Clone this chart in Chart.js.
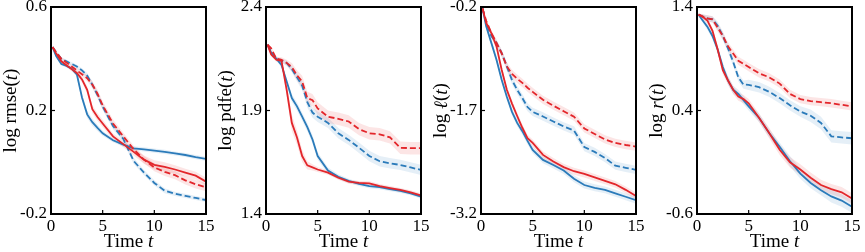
<!DOCTYPE html>
<html><head><meta charset="utf-8">
<script src="https://cdn.jsdelivr.net/npm/chart.js@4/dist/chart.umd.min.js"></script>
<style>
html,body{margin:0;padding:0;background:#fff;overflow:hidden;width:865px;height:252px;position:relative}
canvas{position:absolute;top:-10px}
</style></head><body>
<canvas id="c0" width="220" height="262" style="left:0px"></canvas>
<canvas id="c1" width="220" height="262" style="left:215px"></canvas>
<canvas id="c2" width="220" height="262" style="left:430px"></canvas>
<canvas id="c3" width="220" height="262" style="left:646px"></canvas>
<script>
// time grid (shared)
const T = [0.15,0.5,1,1.5,2,2.5,3,3.5,4,4.5,5,6,7,8,9,10,11,12,13,14,15];
const X_TICKS = [0,5,10,15];

// Panel 1: log rmse(t)
const Y1_TICKS = [-0.2,0.2,0.6];
const rmse_bs = [0.445,0.41,0.38,0.372,0.362,0.34,0.25,0.185,0.155,0.133,0.112,0.085,0.068,0.054,0.05,0.045,0.04,0.034,0.028,0.02,0.013];
const rmse_bd = [0.445,0.425,0.40,0.39,0.38,0.37,0.355,0.335,0.30,0.26,0.215,0.14,0.09,0.005,-0.04,-0.08,-0.11,-0.122,-0.13,-0.138,-0.146];
const rmse_rs = [0.445,0.42,0.39,0.375,0.36,0.345,0.32,0.28,0.205,0.175,0.15,0.1,0.07,0.04,0.01,-0.01,-0.018,-0.028,-0.04,-0.052,-0.075];
const rmse_rd = [0.445,0.425,0.40,0.385,0.37,0.355,0.34,0.325,0.30,0.265,0.22,0.15,0.1,0.05,0.01,-0.02,-0.037,-0.05,-0.07,-0.085,-0.097];
const rmse_bs_sd = [0.003,0.005,0.006,0.006,0.007,0.01,0.012,0.014,0.014,0.012,0.01,0.008,0.008,0.008,0.008,0.008,0.008,0.008,0.008,0.008,0.008];
const rmse_bd_sd = [0.003,0.005,0.006,0.006,0.006,0.007,0.008,0.01,0.012,0.012,0.012,0.012,0.012,0.012,0.01,0.01,0.01,0.008,0.008,0.008,0.008];
const rmse_rs_sd = [0.003,0.005,0.006,0.007,0.008,0.01,0.012,0.014,0.015,0.015,0.014,0.012,0.012,0.014,0.016,0.018,0.018,0.016,0.015,0.015,0.015];
const rmse_rd_sd = [0.003,0.005,0.006,0.007,0.008,0.009,0.01,0.012,0.014,0.016,0.016,0.015,0.014,0.014,0.014,0.015,0.016,0.016,0.016,0.016,0.015];

// Panel 2: log pdfe(t)
const Y2_TICKS = [1.4,1.9,2.4];
const pdfe_bs = [2.218,2.18,2.15,2.12,2.04,1.96,1.92,1.87,1.82,1.76,1.68,1.61,1.58,1.56,1.545,1.535,1.53,1.52,1.512,1.5,1.484];
const pdfe_bd = [2.218,2.18,2.15,2.14,2.13,2.10,2.06,2.02,1.94,1.89,1.87,1.84,1.79,1.758,1.72,1.68,1.655,1.645,1.637,1.625,1.613];
const pdfe_rs = [2.218,2.17,2.145,2.14,2.0,1.84,1.77,1.68,1.635,1.625,1.615,1.6,1.575,1.556,1.55,1.548,1.535,1.525,1.516,1.505,1.49];
const pdfe_rd = [2.218,2.2,2.15,2.145,2.13,2.11,2.07,2.04,1.96,1.95,1.91,1.87,1.86,1.847,1.81,1.79,1.785,1.77,1.72,1.718,1.718];
const pdfe_bs_sd = [0.005,0.008,0.01,0.012,0.015,0.018,0.02,0.02,0.02,0.02,0.018,0.015,0.012,0.01,0.01,0.01,0.01,0.01,0.01,0.01,0.01];
const pdfe_bd_sd = [0.005,0.008,0.01,0.01,0.012,0.015,0.02,0.022,0.025,0.025,0.025,0.025,0.025,0.025,0.025,0.025,0.025,0.025,0.025,0.025,0.025];
const pdfe_rs_sd = [0.005,0.008,0.01,0.012,0.03,0.04,0.035,0.03,0.02,0.015,0.012,0.01,0.01,0.01,0.01,0.01,0.01,0.01,0.01,0.01,0.01];
const pdfe_rd_sd = [0.005,0.008,0.01,0.012,0.015,0.02,0.025,0.028,0.03,0.03,0.03,0.03,0.03,0.03,0.03,0.03,0.03,0.03,0.03,0.03,0.03];

// Panel 3: log l(t)
const Y3_TICKS = [-3.2,-1.7,-0.2];
const ell_bs = [-0.22,-0.48,-0.72,-0.965,-1.255,-1.5,-1.72,-1.88,-2.0,-2.14,-2.27,-2.416,-2.49,-2.57,-2.69,-2.78,-2.82,-2.85,-2.9,-2.95,-3.0];
const ell_bd = [-0.22,-0.43,-0.62,-0.723,-0.868,-1.061,-1.26,-1.40,-1.52,-1.65,-1.72,-1.787,-1.86,-1.93,-1.99,-2.23,-2.30,-2.39,-2.5,-2.53,-2.56];
const ell_rs = [-0.22,-0.43,-0.577,-0.771,-1.11,-1.4,-1.6,-1.78,-1.95,-2.1,-2.17,-2.344,-2.44,-2.52,-2.58,-2.62,-2.67,-2.72,-2.77,-2.85,-2.94];
const ell_rd = [-0.22,-0.40,-0.577,-0.72,-0.87,-1.061,-1.17,-1.24,-1.30,-1.37,-1.43,-1.545,-1.63,-1.71,-1.79,-1.96,-2.04,-2.12,-2.17,-2.2,-2.223];
const ell_bs_sd = [0.02,0.03,0.04,0.05,0.05,0.05,0.05,0.05,0.05,0.05,0.05,0.05,0.05,0.05,0.05,0.05,0.05,0.05,0.05,0.05,0.05];
const ell_bd_sd = [0.02,0.03,0.04,0.05,0.05,0.06,0.06,0.06,0.06,0.06,0.06,0.06,0.06,0.06,0.06,0.06,0.06,0.06,0.06,0.06,0.06];
const ell_rs_sd = [0.02,0.03,0.04,0.05,0.05,0.05,0.05,0.05,0.05,0.05,0.05,0.05,0.05,0.05,0.05,0.05,0.05,0.05,0.05,0.05,0.05];
const ell_rd_sd = [0.02,0.03,0.04,0.05,0.05,0.06,0.06,0.06,0.06,0.06,0.06,0.06,0.06,0.06,0.06,0.06,0.06,0.06,0.06,0.06,0.06];

// Panel 4: log r(t)
const Y4_TICKS = [-0.6,0.4,1.4];
const r_bs = [1.326,1.277,1.21,1.12,0.99,0.82,0.69,0.6,0.56,0.5,0.44,0.33,0.18,0.05,-0.09,-0.21,-0.3,-0.37,-0.43,-0.47,-0.53];
const r_bd = [1.326,1.31,1.29,1.28,1.22,1.12,1.0,0.87,0.72,0.65,0.648,0.625,0.58,0.52,0.45,0.39,0.35,0.28,0.15,0.14,0.132];
const r_rs = [1.326,1.31,1.27,1.17,0.99,0.79,0.69,0.6,0.535,0.51,0.47,0.33,0.18,0.02,-0.1,-0.17,-0.25,-0.32,-0.36,-0.39,-0.45];
const r_rd = [1.326,1.31,1.29,1.28,1.2,1.12,1.02,0.95,0.88,0.85,0.82,0.76,0.72,0.66,0.56,0.51,0.49,0.48,0.47,0.455,0.439];
const r_bs_sd = [0.01,0.02,0.03,0.03,0.04,0.04,0.04,0.04,0.04,0.04,0.04,0.04,0.04,0.04,0.05,0.05,0.05,0.05,0.06,0.06,0.06];
const r_bd_sd = [0.01,0.02,0.03,0.03,0.04,0.04,0.04,0.04,0.04,0.04,0.05,0.05,0.05,0.05,0.05,0.05,0.06,0.06,0.06,0.06,0.06];
const r_rs_sd = [0.01,0.02,0.03,0.03,0.04,0.04,0.04,0.04,0.04,0.04,0.04,0.04,0.05,0.05,0.05,0.05,0.05,0.05,0.05,0.05,0.05];
const r_rd_sd = [0.01,0.02,0.03,0.03,0.04,0.04,0.04,0.04,0.04,0.04,0.04,0.04,0.04,0.04,0.04,0.04,0.04,0.04,0.04,0.04,0.04];

const BLUE = '#2b7bba', RED = '#e3262b';
const BLUE_BAND = 'rgba(43,123,186,0.12)', RED_BAND = 'rgba(227,38,43,0.12)';
const SERIF = '"Liberation Serif","DejaVu Serif",serif';

const panels = [
  {id:'c0', yt:Y1_TICKS, title:[['log rmse(',0],['t',1],[')',0]],
   series:[[rmse_rs,rmse_rs_sd,RED,0],[rmse_rd,rmse_rd_sd,RED,1],[rmse_bs,rmse_bs_sd,BLUE,0],[rmse_bd,rmse_bd_sd,BLUE,1]]},
  {id:'c1', yt:Y2_TICKS, title:[['log pdfe(',0],['t',1],[')',0]],
   series:[[pdfe_rs,pdfe_rs_sd,RED,0],[pdfe_rd,pdfe_rd_sd,RED,1],[pdfe_bs,pdfe_bs_sd,BLUE,0],[pdfe_bd,pdfe_bd_sd,BLUE,1]]},
  {id:'c2', yt:Y3_TICKS, title:[['log ',0],['\u2113',1],['(',0],['t',1],[')',0]],
   series:[[ell_rs,ell_rs_sd,RED,0],[ell_rd,ell_rd_sd,RED,1],[ell_bs,ell_bs_sd,BLUE,0],[ell_bd,ell_bd_sd,BLUE,1]]},
  {id:'c3', yt:Y4_TICKS, title:[['log ',0],['r',1],['(',0],['t',1],[')',0]],
   series:[[r_rs,r_rs_sd,RED,0],[r_rd,r_rd_sd,RED,1],[r_bs,r_bs_sd,BLUE,0],[r_bd,r_bd_sd,BLUE,1]]}
];

function richText(ctx, segs, size){
  let w = 0;
  const parts = segs.map(([s,it])=>{
    ctx.font = (it?'italic ':'') + size + 'px ' + SERIF;
    const m = ctx.measureText(s).width; w += m; return [s,it,m];
  });
  let x = -w/2;
  parts.forEach(([s,it,m])=>{
    ctx.font = (it?'italic ':'') + size + 'px ' + SERIF;
    ctx.fillText(s, x, 0); x += m;
  });
}

const framePlugin = {
  id:'frame',
  afterDatasetsDraw(chart, args, opts){
    const ctx = chart.ctx, a = chart.chartArea;
    const xs = chart.scales.x, ys = chart.scales.y;
    ctx.save();
    ctx.strokeStyle = '#000';
    ctx.lineWidth = 1.2;
    xs.ticks.forEach(t=>{const p=xs.getPixelForValue(t.value);ctx.beginPath();ctx.moveTo(p,a.bottom);ctx.lineTo(p,a.bottom-4);ctx.stroke();});
    ys.ticks.forEach(t=>{const p=ys.getPixelForValue(t.value);ctx.beginPath();ctx.moveTo(a.left,p);ctx.lineTo(a.left+4,p);ctx.stroke();});
    ctx.lineWidth = 2;
    ctx.strokeRect(a.left, a.top, a.right-a.left, a.bottom-a.top);
    ctx.fillStyle = '#000';
    // x title
    ctx.textBaseline = 'alphabetic'; ctx.textAlign = 'left';
    ctx.save(); ctx.translate((a.left+a.right)/2, 257);
    richText(ctx, [['Time ',0],['t',1]], 19); ctx.restore();
    // y title
    ctx.textBaseline = 'middle';
    ctx.save(); ctx.translate(11.5, (a.top+a.bottom)/2); ctx.rotate(-Math.PI/2);
    richText(ctx, opts.title, 19); ctx.restore();
    ctx.restore();
  }
};

panels.forEach(p=>{
  const ds = [];
  p.series.forEach(([v,sd,col])=>{
    const band = col===RED?RED_BAND:BLUE_BAND;
    ds.push({data:T.map((t,k)=>({x:t,y:v[k]+sd[k]})), borderWidth:0, pointRadius:0, fill:'+1', backgroundColor:band, order:10});
    ds.push({data:T.map((t,k)=>({x:t,y:v[k]-sd[k]})), borderWidth:0, pointRadius:0, fill:false, order:10});
  });
  p.series.forEach(([v,sd,col,dash])=>{
    ds.push({data:T.map((t,k)=>({x:t,y:v[k]})), borderColor:col, borderWidth:1.8, borderDash:dash?[6,3]:[], pointRadius:0, fill:false, order:1, tension:0});
  });
  const yt = p.yt;
  new Chart(document.getElementById(p.id), {
    type:'line',
    data:{datasets:ds},
    options:{
      responsive:false, animation:false,
      layout:{padding:{top:17,right:14,left:0,bottom:0}},
      plugins:{legend:{display:false},tooltip:{enabled:false},frame:{title:p.title}},
      scales:{
        x:{type:'linear', min:X_TICKS[0], max:X_TICKS[X_TICKS.length-1],
           grid:{display:false, drawTicks:false}, border:{display:false},
           afterBuildTicks:s=>{s.ticks = X_TICKS.map(v=>({value:v}));},
           afterFit:s=>{s.height = 38;},
           ticks:{color:'#000', padding:2, maxRotation:0, autoSkip:false, font:{family:SERIF, size:17}, callback:v=>String(v)}},
        y:{type:'linear', min:yt[0], max:yt[2],
           grid:{display:false, drawTicks:false}, border:{display:false},
           afterBuildTicks:s=>{s.ticks = yt.map(v=>({value:v}));},
           afterFit:s=>{s.width = 51;},
           ticks:{color:'#000', padding:4, autoSkip:false, font:{family:SERIF, size:17}, callback:v=>v.toFixed(1)}}
      }
    },
    plugins:[framePlugin]
  });
});
</script>
</body></html>
